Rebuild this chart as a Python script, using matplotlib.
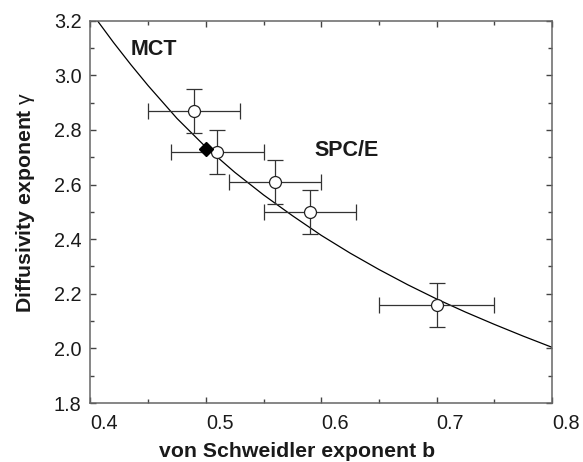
import matplotlib
matplotlib.use("Agg")
import matplotlib.pyplot as plt

plt.rcParams['font.family'] = ['Liberation Sans', 'DejaVu Sans']
plt.rcParams['mathtext.fontset'] = 'custom'
plt.rcParams['mathtext.rm'] = 'Liberation Sans'
plt.rcParams['mathtext.bf'] = 'Liberation Sans:bold'
plt.rcParams['mathtext.it'] = 'Liberation Sans:italic'

# SPC/E simulation points (b, gamma) with error bars
b_sim = [0.49, 0.51, 0.56, 0.59, 0.70]
g_sim = [2.87, 2.72, 2.61, 2.50, 2.16]
b_err = [0.04, 0.04, 0.04, 0.04, 0.05]
g_err = [0.08, 0.08, 0.08, 0.08, 0.08]

# single MCT point
b_mct = [0.50]
g_mct = [2.73]

# MCT gamma(b) curve
curve_b = [0.406, 0.420, 0.435, 0.450, 0.475, 0.500, 0.525, 0.550, 0.575,
           0.600, 0.625, 0.650, 0.675, 0.700, 0.725, 0.750, 0.775, 0.800]
curve_g = [3.200, 3.120, 3.039, 2.962, 2.842, 2.737, 2.645, 2.562, 2.486,
           2.414, 2.349, 2.289, 2.233, 2.181, 2.133, 2.088, 2.045, 2.004]

xticks = [0.4, 0.5, 0.6, 0.7, 0.8]
xminor = [0.45, 0.55, 0.65, 0.75]
yticks = [1.8, 2.0, 2.2, 2.4, 2.6, 2.8, 3.0, 3.2]
yminor = [1.9, 2.1, 2.3, 2.5, 2.7, 2.9, 3.1]

fig = plt.figure(figsize=(5.83, 4.62), dpi=100)
ax = fig.add_axes([0.1552, 0.1277, 0.7916, 0.8275])

ax.plot(curve_b, curve_g, color='black', lw=0.9, zorder=2)
ax.errorbar(b_sim, g_sim, xerr=b_err, yerr=g_err, fmt='o', ms=8.6,
            mfc='white', mec='#222222', mew=0.9, ecolor='#333333',
            elinewidth=0.9, capsize=5.8, capthick=0.9, zorder=3)
ax.plot(b_mct, g_mct, 'D', color='black', ms=7.2, zorder=4)

ax.text(0.435, 3.096, 'MCT', fontsize=15.5, fontweight='bold',
        va='center', ha='left', color='#1a1a1a')
ax.text(0.5945, 2.726, 'SPC/E', fontsize=15.5, fontweight='bold',
        va='center', ha='left', color='#1a1a1a')

ax.set_xlim(0.4, 0.8)
ax.set_ylim(1.8, 3.2)
ax.set_xticks(xticks)
ax.set_xticks(xminor, minor=True)
ax.set_xticklabels([f'{v:.1f}' for v in xticks])
ax.set_yticks(yticks)
ax.set_yticks(yminor, minor=True)
ax.set_yticklabels([f'{v:.1f}' for v in yticks])

ax.tick_params(which='both', direction='in', top=True, right=True,
               color='#444444', width=1.0, labelsize=14.3, labelcolor='#1a1a1a')
ax.tick_params(which='major', length=4.5)
ax.tick_params(which='minor', length=3)
ax.tick_params(axis='x', pad=8)
ax.tick_params(axis='y', pad=6.5)
for lab in ax.get_xticklabels():
    lab.set_horizontalalignment('left')

for sp in ax.spines.values():
    sp.set_color('#666666')
    sp.set_linewidth(1.1)

fig.text(0.509, 0.011, 'von Schweidler exponent b', fontsize=15.3,
         fontweight='bold', ha='center', va='baseline', color='#1a1a1a')
fig.text(0.043, 0.5617, r'$\mathbf{Diffusivity\ exponent}\ \mathrm{\gamma}$',
         fontsize=15.3, rotation=90, ha='center', va='center', color='#1a1a1a')

fig.savefig('out.png', dpi=100)
